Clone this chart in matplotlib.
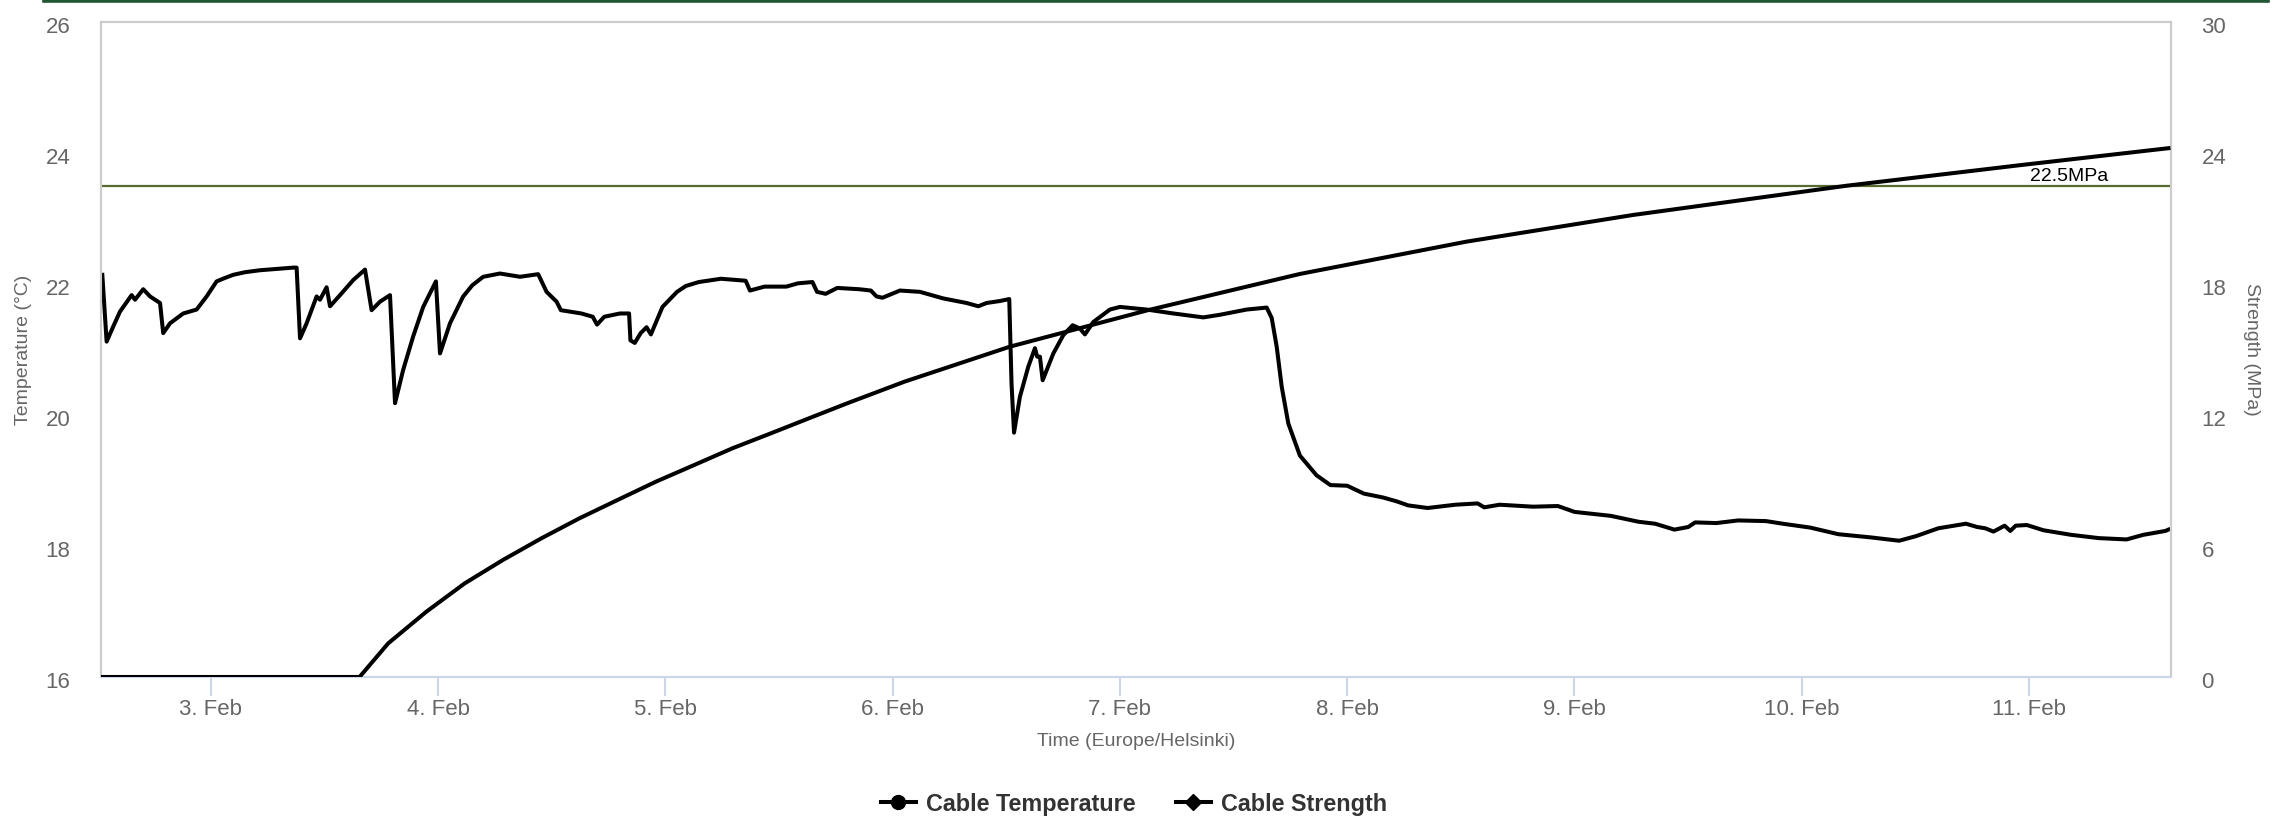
import matplotlib
matplotlib.use("Agg")
import matplotlib.pyplot as plt
import matplotlib.transforms as mtransforms
from matplotlib.lines import Line2D

plt.rcParams['font.family'] = ['Liberation Sans', 'DejaVu Sans']

# time as day of February (fractional)
temp_day = [2.522, 2.541, 2.570, 2.600, 2.651, 2.666, 2.702, 2.732, 2.776, 2.790,
            2.820, 2.878, 2.937, 2.981, 3.025, 3.060, 3.098, 3.150, 3.216, 3.290,
            3.362, 3.377, 3.392, 3.421, 3.465, 3.480, 3.509, 3.524, 3.568, 3.626,
            3.678, 3.707, 3.744, 3.788, 3.810, 3.846, 3.890, 3.934, 3.990, 4.008,
            4.052, 4.110, 4.150, 4.198, 4.272, 4.360, 4.440, 4.477, 4.521, 4.540,
            4.630, 4.680, 4.699, 4.731, 4.800, 4.840, 4.846, 4.865, 4.891, 4.917,
            4.936, 4.987, 5.051, 5.090, 5.147, 5.244, 5.353, 5.372, 5.436, 5.532,
            5.583, 5.647, 5.667, 5.705, 5.756, 5.853, 5.904, 5.929, 5.955, 6.032,
            6.120, 6.222, 6.325, 6.377, 6.413, 6.472, 6.513, 6.523, 6.534, 6.560,
            6.597, 6.626, 6.636, 6.648, 6.660, 6.707, 6.751, 6.792, 6.824, 6.846,
            6.883, 6.956, 7.000, 7.117, 7.235, 7.367, 7.440, 7.558, 7.646, 7.668,
            7.690, 7.712, 7.741, 7.792, 7.865, 7.926, 8.000, 8.073, 8.158, 8.219,
            8.268, 8.354, 8.476, 8.574, 8.603, 8.671, 8.818, 8.927, 9.001, 9.160,
            9.282, 9.355, 9.440, 9.501, 9.531, 9.624, 9.721, 9.843, 9.917, 10.039,
            10.161, 10.307, 10.429, 10.503, 10.601, 10.723, 10.772, 10.808, 10.844, 10.893,
            10.918, 10.942, 10.991, 11.064, 11.186, 11.308, 11.430, 11.503, 11.601, 11.614]
temp_val = [22.14, 21.12, 21.35, 21.58, 21.83, 21.76, 21.92, 21.81, 21.71, 21.25,
            21.40, 21.55, 21.61, 21.81, 22.04, 22.09, 22.14, 22.18, 22.21, 22.23,
            22.25, 22.25, 21.17, 21.40, 21.81, 21.76, 21.95, 21.66, 21.83, 22.06,
            22.22, 21.60, 21.73, 21.83, 20.18, 20.69, 21.20, 21.65, 22.04, 20.94,
            21.40, 21.81, 21.98, 22.11, 22.16, 22.11, 22.15, 21.88, 21.73, 21.60,
            21.55, 21.50, 21.38, 21.50, 21.55, 21.55, 21.14, 21.10, 21.25, 21.34,
            21.23, 21.65, 21.88, 21.97, 22.03, 22.08, 22.05, 21.90, 21.96, 21.96,
            22.01, 22.03, 21.88, 21.85, 21.94, 21.92, 21.90, 21.81, 21.79, 21.90,
            21.88, 21.78, 21.71, 21.66, 21.71, 21.74, 21.77, 20.48, 19.73, 20.28,
            20.74, 21.02, 20.89, 20.89, 20.53, 20.94, 21.22, 21.37, 21.32, 21.23,
            21.42, 21.61, 21.65, 21.61, 21.55, 21.49, 21.53, 21.61, 21.64, 21.48,
            21.04, 20.43, 19.87, 19.38, 19.08, 18.93, 18.92, 18.80, 18.74, 18.68,
            18.62, 18.58, 18.63, 18.65, 18.59, 18.63, 18.60, 18.61, 18.52, 18.46,
            18.37, 18.34, 18.25, 18.29, 18.36, 18.35, 18.39, 18.38, 18.34, 18.28,
            18.18, 18.13, 18.08, 18.15, 18.27, 18.34, 18.29, 18.27, 18.22, 18.31,
            18.23, 18.31, 18.32, 18.24, 18.17, 18.12, 18.10, 18.17, 18.23, 18.25]

strength_day = [2.520, 3.654, 3.780, 3.948, 4.117, 4.285, 4.454, 4.622, 4.790, 4.959,
                5.127, 5.296, 5.464, 5.632, 5.801, 6.053, 6.516, 7.123, 7.792, 8.525,
                9.257, 10.197, 10.967, 11.614]
strength_val = [0.0, 0.0, 1.54, 2.99, 4.29, 5.36, 6.35, 7.27, 8.11, 8.95,
                9.71, 10.48, 11.16, 11.85, 12.54, 13.53, 15.13, 16.80, 18.46, 19.94,
                21.16, 22.50, 23.45, 24.22]

target_strength = 22.5
tick_days = [3, 4, 5, 6, 7, 8, 9, 10, 11]
tick_labels = ['3. Feb', '4. Feb', '5. Feb', '6. Feb', '7. Feb',
               '8. Feb', '9. Feb', '10. Feb', '11. Feb']

fig = plt.figure(figsize=(22.84, 8.18), dpi=100)
ax = fig.add_axes([0.0442, 0.1724, 0.9063, 0.8007])
ax2 = ax.twinx()

# green bar across the very top
fig.add_artist(Line2D([44 / 2284, 2268 / 2284], [0.9985, 0.9985],
                      color='#215732', lw=2.6, transform=fig.transFigure))

ax.plot(temp_day, temp_val, color='black', lw=2.9, solid_joinstyle='round', zorder=3)
ax2.plot(strength_day, strength_val, color='black', lw=2.9, solid_joinstyle='round', zorder=3)

ax2.axhline(target_strength, color='#556B2F', lw=1.6, zorder=2)
ax2.text(11.347, target_strength + 0.05, '22.5MPa', ha='right', va='bottom',
         fontsize=14, color='black')

ax.set_xlim(2.516, 11.625)
ax.set_ylim(16, 26)
ax2.set_ylim(0, 30)
ax.set_yticks([16, 18, 20, 22, 24, 26])
ax2.set_yticks([0, 6, 12, 18, 24, 30])
ax.set_xticks(tick_days)
ax.set_xticklabels(tick_labels)

for a in (ax, ax2):
    for s in ('left', 'top', 'right'):
        a.spines[s].set_color('#cccccc')
        a.spines[s].set_linewidth(1.5)
    a.spines['bottom'].set_color('#ccd6eb')
    a.spines['bottom'].set_linewidth(1.5)
    a.tick_params(axis='y', length=0, labelsize=16, labelcolor='#666666', pad=22)
    # highcharts puts the y labels a touch below the gridline value
    shift = mtransforms.ScaledTranslation(0, -3 / 100, fig.dpi_scale_trans)
    for lab in a.get_yticklabels():
        lab.set_transform(lab.get_transform() + shift)

ax.tick_params(axis='x', length=14, width=1.5, color='#ccd6eb',
               labelsize=16, labelcolor='#666666', pad=2)

ax.set_xlabel('Time (Europe/Helsinki)', fontsize=14, color='#666666', labelpad=9)
ax.set_ylabel('Temperature (°C)', fontsize=14, color='#666666', labelpad=10)
ax2.set_ylabel('Strength (MPa)', fontsize=14, color='#666666', rotation=270,
               labelpad=24)

handles = [Line2D([], [], color='black', lw=2.9, marker='o', markersize=10),
           Line2D([], [], color='black', lw=2.9, marker='D', markersize=8)]
fig.legend(handles, ['Cable Temperature', 'Cable Strength'], loc='center',
           bbox_to_anchor=(0.4965, 0.017), ncol=2, frameon=False,
           prop={'size': 16.8, 'weight': 'bold'}, labelcolor='#333333',
           handlelength=1.5, handletextpad=0.45, columnspacing=1.7)

fig.savefig('out.png', dpi=100)
